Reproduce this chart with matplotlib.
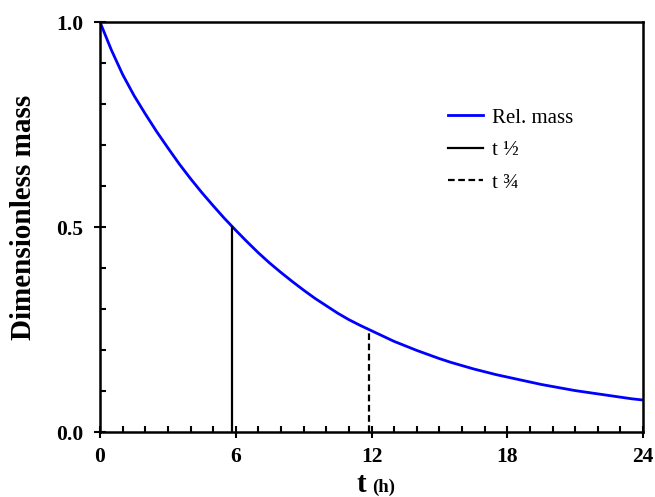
import matplotlib
matplotlib.use("Agg")
import matplotlib.pyplot as plt
from matplotlib.ticker import MultipleLocator, FormatStrFormatter

# Relative mass, every half hour
hours = [0, 0.5, 1, 1.5, 2, 2.5, 3, 3.5, 4, 4.5, 5, 5.5, 6, 6.5, 7, 7.5,
         8, 8.5, 9, 9.5, 10, 10.5, 11, 11.5, 12, 12.5, 13, 13.5, 14, 14.5,
         15, 15.5, 16, 16.5, 17, 17.5, 18, 18.5, 19, 19.5, 20, 20.5, 21,
         21.5, 22, 22.5, 23, 23.5, 24]
rel_mass = [1.000, 0.932, 0.872, 0.821, 0.776, 0.733, 0.693, 0.654, 0.618,
            0.584, 0.552, 0.521, 0.492, 0.464, 0.437, 0.412, 0.389, 0.367,
            0.346, 0.326, 0.308, 0.290, 0.274, 0.260, 0.247, 0.234, 0.221,
            0.210, 0.199, 0.189, 0.179, 0.170, 0.162, 0.154, 0.147, 0.140,
            0.134, 0.128, 0.122, 0.116, 0.111, 0.106, 0.101, 0.097, 0.093,
            0.089, 0.085, 0.081, 0.078]

# half-life and three-quarter life markers
t_half = 5.85
m_half = 0.5
t_three_q = 11.9
m_three_q = 0.25

plt.rcParams['font.family'] = ['Liberation Serif', 'DejaVu Serif']


def main():
    fig = plt.figure(figsize=(6.55, 4.97), dpi=100)
    ax = fig.add_axes([100 / 655, 1 - 432 / 497, 543 / 655, 410 / 497])

    ax.plot(hours, rel_mass, color='#0000FF', lw=2.0, label='Rel. mass')
    ax.plot([t_half, t_half], [0, m_half], color='black', lw=1.6, label='t ½')
    ax.plot([t_three_q, t_three_q], [0, m_three_q], color='black', lw=1.6,
            ls=(0, (3, 1.6)), label='t ¾')

    ax.set_xlim(0, 24)
    ax.set_ylim(0, 1)

    # ticks: majors cross the axis, minors point inward
    ax.xaxis.set_major_locator(MultipleLocator(6))
    ax.xaxis.set_minor_locator(MultipleLocator(1))
    ax.yaxis.set_major_locator(MultipleLocator(0.5))
    ax.yaxis.set_minor_locator(MultipleLocator(0.1))
    ax.yaxis.set_major_formatter(FormatStrFormatter('%.1f'))
    ax.tick_params(which='major', direction='inout', length=8, width=1.5,
                   labelsize=15.5, pad=8)
    ax.tick_params(axis='x', which='major', pad=7)
    ax.tick_params(which='minor', direction='in', length=4, width=1.5)
    ax.tick_params(top=False, right=False, which='both')
    for lbl in ax.get_xticklabels() + ax.get_yticklabels():
        lbl.set_fontweight('bold')

    for sp in ax.spines.values():
        sp.set_linewidth(1.8)

    fig.text(24 / 655, 1 - 217 / 497, 'Dimensionless mass', rotation=90,
             ha='center', va='center', fontsize=21, fontweight='bold')
    fig.text(361 / 655, 1 - 492 / 497, 't', ha='center', va='baseline',
             fontsize=21, fontweight='bold')
    fig.text(372 / 655, 1 - 492 / 497, '(h)', ha='left', va='baseline',
             fontsize=13.5, fontweight='bold')

    ax.legend(loc='upper left', bbox_to_anchor=(0.64, 0.79), frameon=False,
              fontsize=15, handlelength=1.7, handletextpad=0.45,
              labelspacing=0.62, borderpad=0, borderaxespad=0)

    fig.savefig('out.png', dpi=100)


if __name__ == '__main__':
    main()
